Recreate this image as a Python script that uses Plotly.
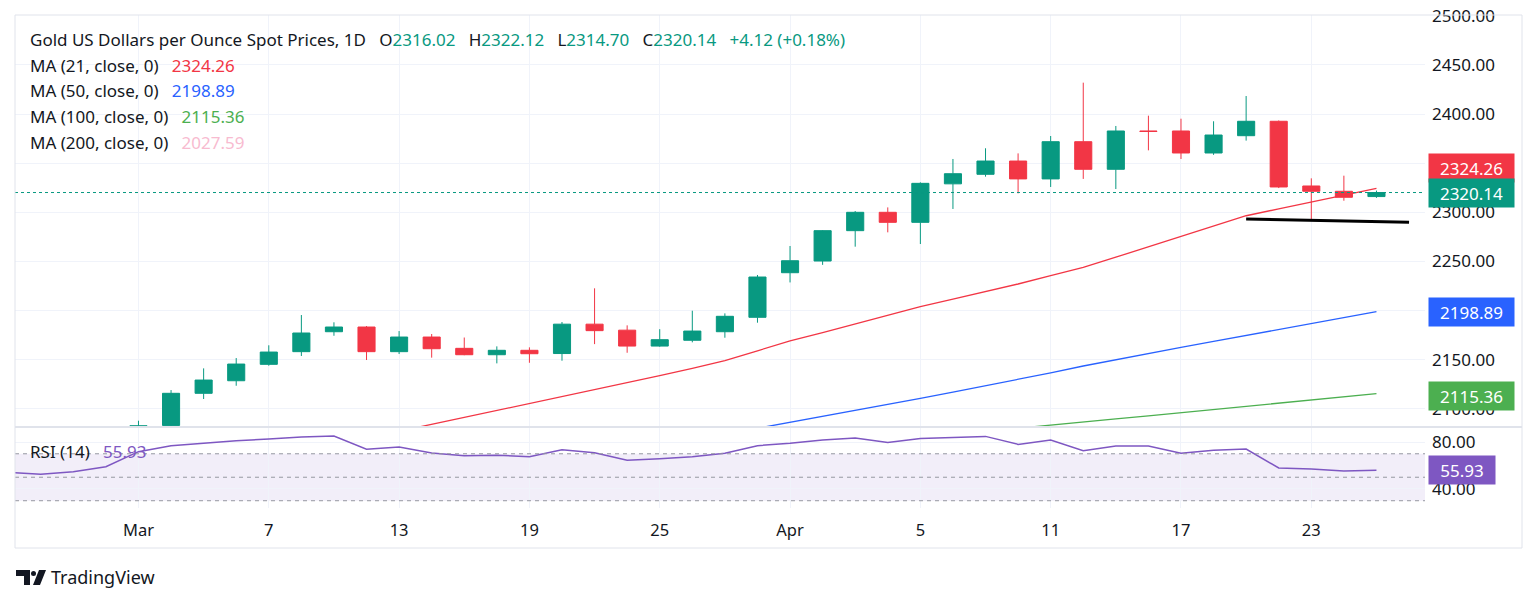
import numpy as np
import plotly.graph_objects as go

# ---------------- data ----------------
dates = ["2024-03-01", "2024-03-04", "2024-03-05", "2024-03-06", "2024-03-07", "2024-03-08",
         "2024-03-11", "2024-03-12", "2024-03-13", "2024-03-14", "2024-03-15",
         "2024-03-18", "2024-03-19", "2024-03-20", "2024-03-21", "2024-03-22",
         "2024-03-25", "2024-03-26", "2024-03-27", "2024-03-28",
         "2024-04-01", "2024-04-02", "2024-04-03", "2024-04-04", "2024-04-05",
         "2024-04-08", "2024-04-09", "2024-04-10", "2024-04-11", "2024-04-12",
         "2024-04-15", "2024-04-16", "2024-04-17", "2024-04-18", "2024-04-19",
         "2024-04-22", "2024-04-23", "2024-04-24", "2024-04-25"]
opens = [2044.0, 2083.0, 2115.7, 2128.5, 2145.2, 2158.1, 2178.4, 2183.2, 2158.1, 2173.0, 2161.5,
         2155.0, 2159.5, 2156.2, 2186.1, 2180.0, 2163.8, 2169.7, 2178.4, 2193.1,
         2238.5, 2250.4, 2281.3, 2300.0, 2289.8, 2329.0, 2338.7, 2352.2, 2334.0, 2371.9,
         2343.8, 2382.8, 2382.8, 2360.4, 2378.0, 2392.7, 2326.8, 2321.4, 2316.02]
highs = [2087.8, 2119.0, 2141.1, 2151.6, 2164.6, 2195.4, 2188.0, 2184.2, 2179.1, 2176.1, 2172.5,
         2163.5, 2162.5, 2188.3, 2222.6, 2184.9, 2181.0, 2199.8, 2197.1, 2236.2,
         2265.7, 2281.8, 2301.3, 2305.0, 2330.5, 2354.3, 2365.2, 2360.0, 2377.7, 2432.0,
         2387.9, 2398.4, 2395.3, 2392.7, 2418.4, 2393.5, 2334.6, 2337.3, 2322.12]
lows = [2038.0, 2077.0, 2109.9, 2123.4, 2143.8, 2153.7, 2174.3, 2149.6, 2155.7, 2152.0, 2154.5,
        2146.2, 2146.8, 2148.9, 2165.8, 2157.0, 2163.1, 2167.6, 2172.3, 2187.6,
        2228.6, 2246.5, 2265.0, 2279.6, 2267.7, 2303.4, 2336.3, 2319.3, 2325.8, 2334.0,
        2323.7, 2363.1, 2354.3, 2358.5, 2373.0, 2324.7, 2291.1, 2311.8, 2314.70]
closes = [2082.7, 2115.7, 2129.2, 2145.5, 2157.7, 2177.1, 2183.2, 2158.1, 2173.0, 2161.1, 2155.0,
          2159.5, 2156.0, 2186.1, 2179.5, 2163.8, 2170.3, 2179.1, 2194.1, 2234.1,
          2250.7, 2281.3, 2300.0, 2289.8, 2329.5, 2339.3, 2352.2, 2334.0, 2371.9, 2343.8,
          2382.8, 2382.3, 2360.4, 2378.7, 2392.7, 2325.8, 2321.4, 2315.3, 2320.14]

ma21 = [None, None, None, None, None, None, None, 2070.0, 2077.0, 2084.0, 2091.0,
        2098.0, 2105.5, 2112.5, 2119.5, 2126.5, 2133.6, 2141.0, 2149.0, 2159.0,
        2169.0, 2177.5, 2186.5, 2195.5, 2204.0, 2211.6, 2219.3, 2227.0, 2235.5, 2244.0,
        2254.3, 2264.7, 2275.0, 2285.8, 2296.5, 2303.5, 2310.5, 2317.4, 2324.26]
ma50 = [None] * 18 + [2074.0, 2080.0,
        2086.0, 2092.0, 2098.0, 2104.0, 2110.5, 2117.0, 2123.5, 2129.5, 2136.5, 2143.5,
        2150.0, 2156.5, 2162.5, 2168.5, 2174.5, 2180.5, 2186.5, 2192.7, 2198.89]
ma100 = [None] * 26 + [2077.0, 2080.0, 2083.2, 2086.4,
         2089.6, 2092.8, 2096.0, 2099.2, 2102.4, 2105.6, 2108.8, 2112.1, 2115.36]
ma200_last = 2027.59

rsi_dates = ["2024-02-26", "2024-02-27", "2024-02-28", "2024-02-29"] + dates
rsi = [54.3, 52.5, 54.7, 59.0,
       71.8, 76.9, 78.9, 81.1, 82.6, 84.3, 85.1, 73.8, 75.7, 70.6, 68.4,
       68.8, 67.5, 73.5, 70.9, 64.4, 65.8, 67.5, 70.4, 76.9,
       78.9, 81.7, 83.4, 79.7, 83.1, 84.0, 84.8, 78.0, 81.7, 72.6,
       76.6, 76.6, 70.4, 72.9, 74.0, 57.9, 57.0, 55.4, 55.93]

trend_dates = ["2024-04-19", "2024-04-26"]
trend_vals = [2293.2, 2290.0]

tick_dates = ["2024-03-01", "2024-03-07", "2024-03-13", "2024-03-19", "2024-03-25",
              "2024-04-01", "2024-04-05", "2024-04-11", "2024-04-17", "2024-04-23"]
tick_text = ["Mar", "7", "13", "19", "25", "Apr", "5", "11", "17", "23"]

price_ticks = [2100, 2150, 2200, 2250, 2300, 2350, 2400, 2450, 2500]
price_ticks_hidden = [2200, 2350]   # fully covered by the value tags in the reference
rsi_ticks = [40, 80]

change = 4.12
change_pct = 0.18

HOLIDAYS = ["2024-03-29"]
ORIGIN = "2024-02-26"


def pos(d):
    return int(np.busday_count(ORIGIN, d, holidays=HOLIDAYS))


# ---------------- styling ----------------
GREEN = "#089981"
RED = "#f23645"
BLUE = "#2962ff"
MGREEN = "#4caf50"
PINK = "#f8bbd0"
PURPLE = "#7e57c2"
TXT = "#131722"
GRID = "#f0f3fa"
BORDER = "#e0e3eb"
FONT = "Noto Sans"
FS = 17

# the page body has an 8px default margin, so the figure is drawn 8px smaller
OFF = 8
W, H = 1536 - OFF, 603 - OFF
L, T = 15 - OFF, 15 - OFF
R = W - (1425 - OFF)
B = H - (508 - OFF)
PW, PH = W - L - R, H - T - B


def px(x):
    return (x - 15) / PW


def py(y):
    return (508 - y) / PH


split = py(427)

xs = [pos(d) for d in dates]
rx = [pos(d) for d in rsi_dates]

fig = go.Figure()
fig.add_trace(go.Candlestick(
    x=xs, open=opens, high=highs, low=lows, close=closes,
    increasing=dict(line=dict(color=GREEN, width=1), fillcolor=GREEN),
    decreasing=dict(line=dict(color=RED, width=1), fillcolor=RED),
    whiskerwidth=0, xaxis="x", yaxis="y", hoverinfo="skip"))
fig.add_trace(go.Scatter(x=xs, y=ma100, mode="lines", line=dict(color=MGREEN, width=1.3),
                         xaxis="x", yaxis="y", hoverinfo="skip"))
fig.add_trace(go.Scatter(x=xs, y=ma50, mode="lines", line=dict(color=BLUE, width=1.3),
                         xaxis="x", yaxis="y", hoverinfo="skip"))
fig.add_trace(go.Scatter(x=xs, y=ma21, mode="lines", line=dict(color=RED, width=1.3),
                         xaxis="x", yaxis="y", hoverinfo="skip"))
fig.add_trace(go.Scatter(x=[pos(d) for d in trend_dates], y=trend_vals, mode="lines",
                         line=dict(color="#000000", width=3), xaxis="x", yaxis="y",
                         hoverinfo="skip"))
fig.add_trace(go.Scatter(x=rx, y=rsi, mode="lines", line=dict(color=PURPLE, width=1.5),
                         xaxis="x", yaxis="y2", hoverinfo="skip"))

shapes = []
# RSI band and levels
shapes.append(dict(type="rect", xref="paper", yref="y2", x0=0, x1=1, y0=30, y1=70,
                   fillcolor="rgba(126,87,194,0.10)", line=dict(width=0), layer="below"))
for lv in (70, 50, 30):
    shapes.append(dict(type="line", xref="paper", yref="y2", x0=0, x1=1, y0=lv, y1=lv,
                       line=dict(color="#9598a1", width=1, dash="4px,4px")))
# last price dotted line
shapes.append(dict(type="line", xref="paper", yref="y", x0=0, x1=1,
                   y0=closes[-1], y1=closes[-1],
                   line=dict(color=GREEN, width=1, dash="dot")))
# pane separator and outer border
shapes.append(dict(type="line", xref="paper", yref="paper", x0=px(15), x1=px(1522),
                   y0=split, y1=split, line=dict(color=BORDER, width=2)))
shapes.append(dict(type="rect", xref="paper", yref="paper", x0=px(15), x1=px(1522),
                   y0=py(548), y1=py(15), line=dict(color=BORDER, width=1)))
# TradingView logo (approximate glyph)
shapes.append(dict(type="path", xref="paper", yref="paper",
                   path=(f"M {px(16)} {py(570)} L {px(30)} {py(570)} L {px(30)} {py(585)} "
                         f"L {px(24)} {py(585)} L {px(24)} {py(576)} L {px(16)} {py(576)} Z"),
                   fillcolor=TXT, line=dict(width=0)))
shapes.append(dict(type="circle", xref="paper", yref="paper",
                   x0=px(31), x1=px(36), y0=py(576), y1=py(571),
                   fillcolor=TXT, line=dict(width=0)))
shapes.append(dict(type="path", xref="paper", yref="paper",
                   path=(f"M {px(39)} {py(570)} L {px(46)} {py(570)} L {px(40)} {py(585)} "
                         f"L {px(33)} {py(585)} Z"),
                   fillcolor=TXT, line=dict(width=0)))

NB = "\u00a0"
GAP = NB * 3


def span(t, c):
    return f"<span style='color:{c}'>{t}</span>"


annotations = []
header = ("Gold US Dollars per Ounce Spot Prices, 1D" + GAP +
          "O" + span(f"{opens[-1]:.2f}", GREEN) + GAP +
          "H" + span(f"{highs[-1]:.2f}", GREEN) + GAP +
          "L" + span(f"{lows[-1]:.2f}", GREEN) + GAP +
          "C" + span(f"{closes[-1]:.2f}", GREEN) + GAP +
          span(f"+{change:.2f} (+{change_pct:.2f}%)", GREEN))
annotations.append(dict(text=header, xref="paper", yref="paper", x=px(28), y=py(39),
                        xanchor="left", yanchor="middle", showarrow=False,
                        font=dict(family=FONT, size=FS, color=TXT)))
ma_rows = [("MA (21, close, 0)", ma21[-1], RED, 65),
           ("MA (50, close, 0)", ma50[-1], BLUE, 90.5),
           ("MA (100, close, 0)", ma100[-1], MGREEN, 116),
           ("MA (200, close, 0)", ma200_last, PINK, 142)]
for lab, val, col, yy in ma_rows:
    annotations.append(dict(text=lab + GAP + span(f"{val:.2f}", col), xref="paper", yref="paper",
                            x=px(28), y=py(yy), xanchor="left", yanchor="middle",
                            showarrow=False, font=dict(family=FONT, size=FS, color=TXT)))
annotations.append(dict(text="RSI (14)" + GAP + span(f"{rsi[-1]:.2f}", PURPLE),
                        xref="paper", yref="paper", x=px(28), y=py(451),
                        xanchor="left", yanchor="middle", showarrow=False,
                        font=dict(family=FONT, size=FS, color=TXT)))

# right-hand value tags
tags = [(ma21[-1], RED, 20, "y", 80), (closes[-1], GREEN, 0, "y", 80),
        (ma50[-1], BLUE, 0, "y", 80), (ma100[-1], MGREEN, -2, "y", 80),
        (rsi[-1], PURPLE, 0, "y2", 61)]
for val, col, ysh, yr, wd in tags:
    annotations.append(dict(text=f"{val:.2f}", xref="paper", yref=yr, x=1, y=val,
                            xanchor="left", yanchor="middle", xshift=3, yshift=ysh,
                            showarrow=False, bgcolor=col, borderpad=2.5, width=wd,
                            align="center",
                            font=dict(family=FONT, size=FS, color="#ffffff")))

annotations.append(dict(text="TradingView", xref="paper", yref="paper", x=px(49), y=py(577),
                        xanchor="left", yanchor="middle", showarrow=False,
                        font=dict(family=FONT, size=18, color=TXT)))

fig.update_layout(
    width=W, height=H, margin=dict(l=L, r=R, t=T, b=B, autoexpand=False),
    paper_bgcolor="#ffffff", plot_bgcolor="#ffffff",
    showlegend=False, hovermode=False, boxgap=0.25,
    font=dict(family=FONT, color=TXT, size=FS),
    xaxis=dict(range=[0.21, 43.49], anchor="y2", tickvals=[pos(d) for d in tick_dates],
               ticktext=tick_text, showgrid=True, gridcolor=GRID, zeroline=False,
               showline=False, ticks="", ticklabelstandoff=10, automargin=False,
               tickfont=dict(family=FONT, size=FS - 0.5, color=TXT),
               rangeslider=dict(visible=False), fixedrange=True),
    yaxis=dict(domain=[split, 1], anchor="x", side="right", range=[2081.4, 2500.9],
               tickvals=price_ticks,
               ticktext=["" if v in price_ticks_hidden else f"{v:.2f}" for v in price_ticks],
               showgrid=True, gridcolor=GRID, ticklabeloverflow="allow",
               zeroline=False, showline=False, ticks="", ticklabelstandoff=6,
               automargin=False, tickfont=dict(family=FONT, size=FS, color=TXT)),
    yaxis2=dict(domain=[0, split], anchor="x", side="right", range=[23.8, 92.8],
                tickvals=rsi_ticks, ticktext=[f"{v:.2f}" for v in rsi_ticks],
                showgrid=True, gridcolor=GRID,
                zeroline=False, showline=False, ticks="", ticklabelstandoff=6,
                automargin=False, tickfont=dict(family=FONT, size=FS, color=TXT)),
    shapes=shapes, annotations=annotations,
)

fig.write_html("out.html")
